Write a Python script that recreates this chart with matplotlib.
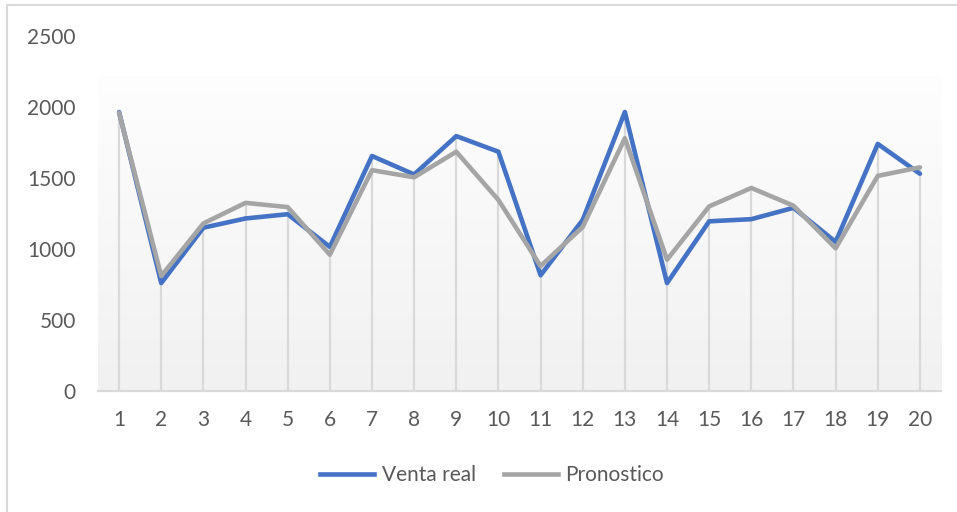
import numpy as np
import matplotlib
matplotlib.use("Agg")
import matplotlib.pyplot as plt
from matplotlib.lines import Line2D
from matplotlib.patches import Rectangle

periods = list(range(1, 21))
venta_real = [1965, 760, 1150, 1215, 1245, 1015, 1655, 1525, 1795, 1685,
              815, 1205, 1965, 760, 1195, 1210, 1290, 1050, 1740, 1530]
pronostico = [1960, 810, 1180, 1325, 1295, 960, 1555, 1505, 1685, 1345,
              880, 1155, 1780, 925, 1300, 1430, 1305, 1005, 1515, 1575]
y_ticks = [0, 500, 1000, 1500, 2000, 2500]

W, H = 957, 512
fig = plt.figure(figsize=(W / 100, H / 100), dpi=100)
fig.patch.set_facecolor("white")

# chart frame (only left and top edges fall inside the canvas)
fig.patches.append(Rectangle((7 / W, -0.2), 1.5, 1 - 5 / H + 0.2,
                             transform=fig.transFigure, fill=False,
                             edgecolor="#d9d9d9", linewidth=1.5, zorder=0))

ax = fig.add_axes([98 / W, 1 - 391 / H, (941 - 98) / W, (391 - 36) / H])
ax.set_facecolor("white")
ax.set_xlim(0.5, 20.5)
ax.set_ylim(0, 2500)

# plot-area gradient fill
grad = np.linspace(0.945, 0.995, 256).reshape(-1, 1)
ax.imshow(np.dstack([grad, grad, grad]), extent=(0.5, 20.5, 0, 2218),
          origin="lower", aspect="auto", zorder=0, interpolation="bilinear")

# drop lines from the higher series to the axis
tops = [max(a, b) for a, b in zip(venta_real, pronostico)]
ax.vlines(periods, 0, tops, colors="#d9d9d9", linewidth=1.6, zorder=1)

ax.plot(periods, venta_real, color="#4472C4", linewidth=3.3, zorder=3,
        solid_joinstyle="round", solid_capstyle="round")
ax.plot(periods, pronostico, color="#A5A5A5", linewidth=3.3, zorder=4,
        solid_joinstyle="round", solid_capstyle="round")

for s in ["top", "right", "left"]:
    ax.spines[s].set_visible(False)
ax.spines["bottom"].set_color("#d9d9d9")
ax.spines["bottom"].set_linewidth(1.6)

font = "Lato"
ax.set_xticks(periods)
ax.set_xticklabels([str(p) for p in periods], fontsize=15, color="#595959",
                   family=font)
ax.set_yticks(y_ticks)
ax.set_yticklabels([str(v) for v in y_ticks], fontsize=15, color="#595959",
                   family=font)
ax.tick_params(axis="both", length=0)
ax.tick_params(axis="x", pad=14)
ax.tick_params(axis="y", pad=16)

handles = [Line2D([], [], color="#4472C4", linewidth=3.3),
           Line2D([], [], color="#A5A5A5", linewidth=3.3)]
fig.legend(handles, ["Venta real", "Pronostico"], loc="center",
           bbox_to_anchor=(492 / W, 1 - 475 / H), ncol=2, frameon=False,
           prop={"family": font, "size": 15}, labelcolor="#595959",
           handlelength=2.6, handletextpad=0.35, columnspacing=1.35)

fig.savefig("out.png", dpi=100, facecolor="white")
